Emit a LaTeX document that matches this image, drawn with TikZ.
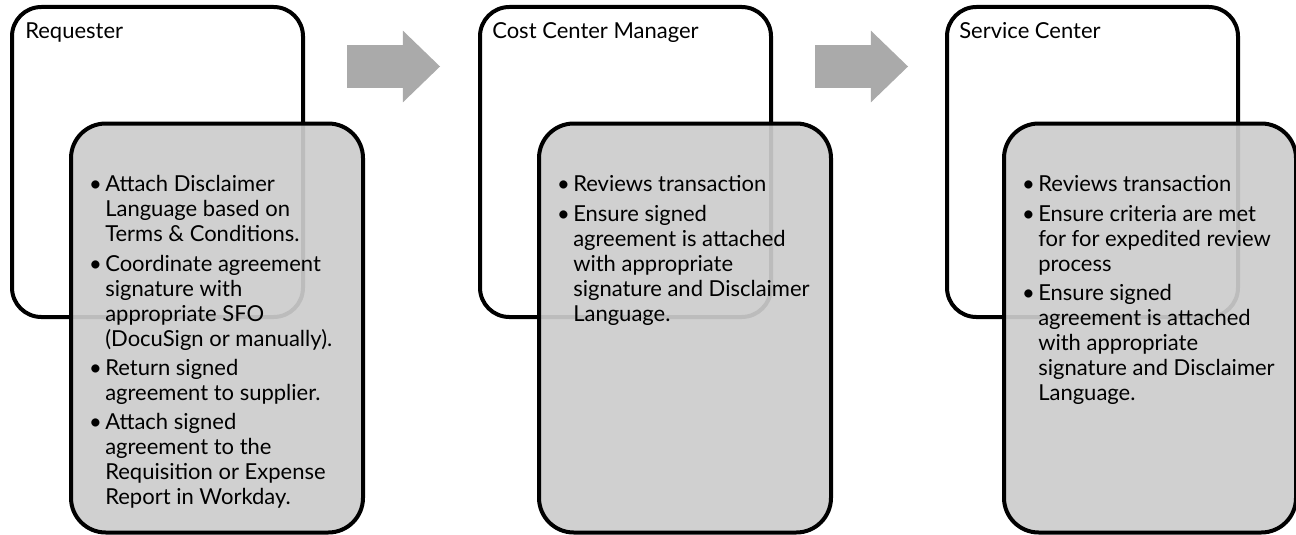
\documentclass[tikz,border=0pt]{standalone}
\usepackage{fontspec}
\setmainfont{Lato}
\usetikzlibrary{shapes.arrows}

\definecolor{boxgray}{RGB}{204,204,204}
\definecolor{arrowgray}{RGB}{170,170,170}
\newcommand{\bul}{\llap{\textbullet\hspace{2.5pt}}}

\begin{document}
\begin{tikzpicture}[x=0.75pt,y=-0.75pt,
  back box/.style={draw,line width=3pt,rounded corners=22pt,fill=white,inner sep=0pt,minimum width=291*0.75pt,minimum height=310*0.75pt},
  front box/.style={draw,line width=3pt,rounded corners=26pt,fill=boxgray,fill opacity=0.92,inner sep=0pt,minimum width=292*0.75pt,minimum height=409*0.75pt},
  role/.style={anchor=base west,inner sep=0pt,font=\fontsize{16.5}{18}\selectfont},
  item text/.style={anchor=north west,inner sep=0pt,align=left,font=\fontsize{16.5}{18.75}\selectfont},
  step arrow/.style={single arrow,fill=arrowgray,draw=none,inner xsep=0pt,inner ysep=21*0.75pt,minimum height=93*0.75pt,single arrow head extend=14.5*0.75pt,single arrow tip angle=88}]

  \useasboundingbox (0,0) rectangle (1296,535);

  % Requester
  \node[back box] (req) at (157.5,162) {};
  \node[role] (reqlabel) at (25,39) {Requester};
  \node[front box] (reqlist) at (217,328) {};
  \node[item text] (reqtxt) at (105,175.5) {\bul Attach Disclaimer\\ Language based on\\ Terms \& Conditions.\\[3.2pt]
    \bul Coordinate agreement\\ signature with\\ appropriate SFO\\ (DocuSign or manually).\\[3.2pt]
    \bul Return signed\\ agreement to supplier.\\[3.2pt]
    \bul Attach signed\\ agreement to the\\ Requisition or Expense\\ Report in Workday.};

  \node[step arrow] (arr1) at (382.5,66.5) {};

  % Cost Center Manager
  \node[back box] (ccm) at (625.5,162) {};
  \node[role] (ccmlabel) at (492,39) {Cost Center Manager};
  \node[front box] (ccmlist) at (685,328) {};
  \node[item text] (ccmtxt) at (573,175.5) {\bul Reviews transaction\\[3.2pt]
    \bul Ensure signed\\ agreement is attached\\ with appropriate\\ signature and Disclaimer\\ Language.};

  \node[step arrow] (arr2) at (850.5,66.5) {};

  % Service Center
  \node[back box] (svc) at (1092.5,162) {};
  \node[role] (svclabel) at (959,39) {Service Center};
  \node[front box] (svclist) at (1150,328) {};
  \node[item text] (svctxt) at (1038,175.5) {\bul Reviews transaction\\[3.2pt]
    \bul Ensure criteria are met\\ for for expedited review\\ process\\[3.2pt]
    \bul Ensure signed\\ agreement is attached\\ with appropriate\\ signature and Disclaimer\\ Language.};
\end{tikzpicture}
\end{document}
